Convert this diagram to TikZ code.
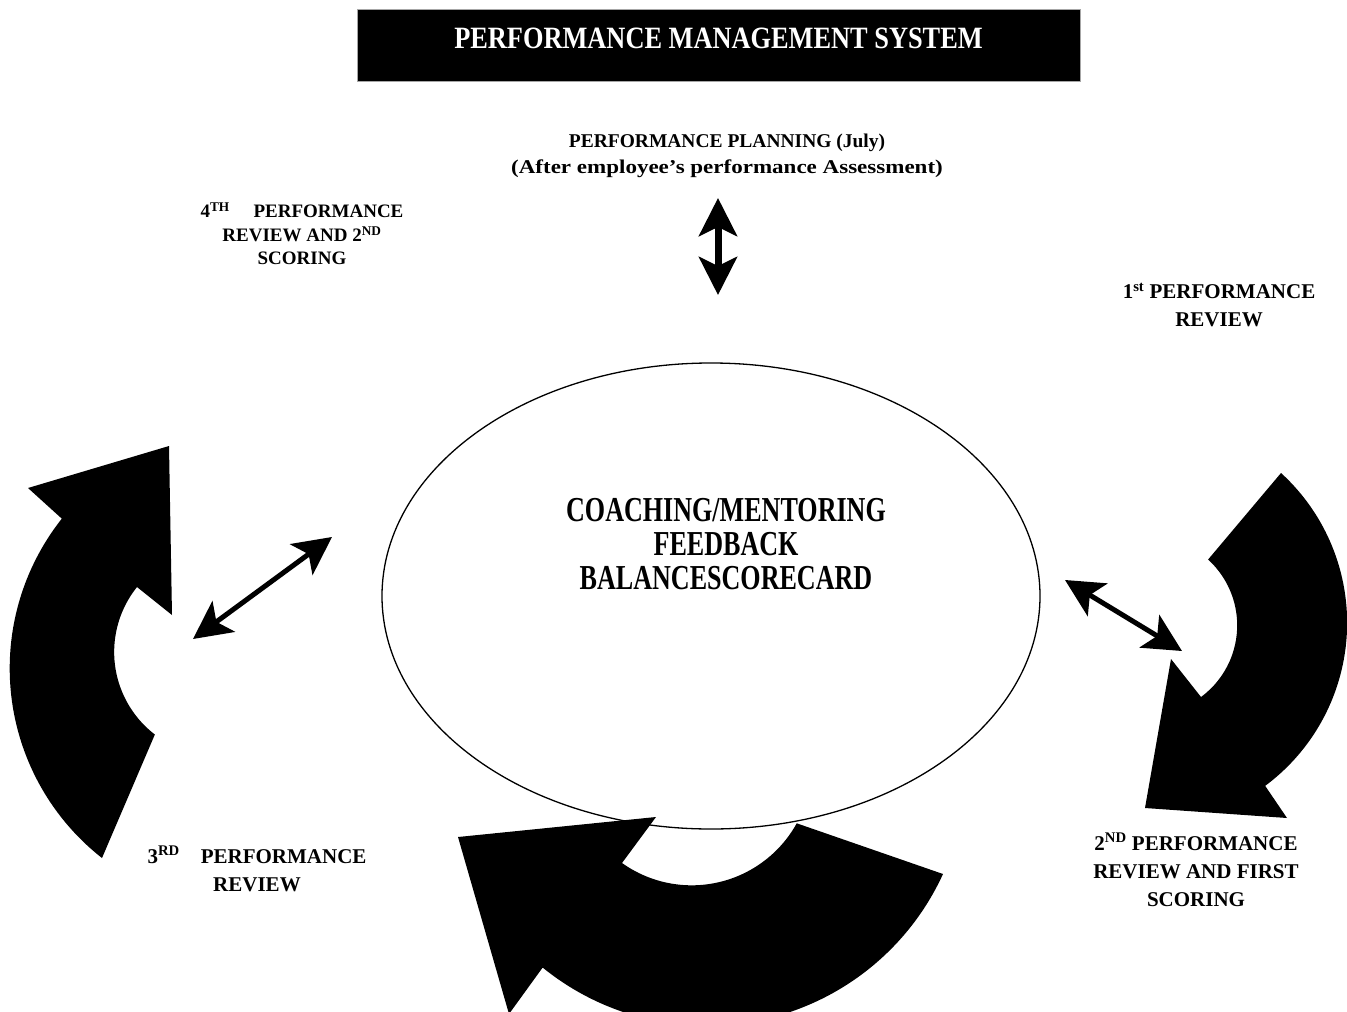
\documentclass[tikz,border=0pt]{standalone}
\usepackage{graphicx}
\usepackage{fontspec}
\setmainfont{Liberation Serif}
\usepackage{tikz}
\usetikzlibrary{arrows.meta,shapes.geometric}

\newcommand{\narrowtxt}[2]{\scalebox{#1}[1]{#2}}

\begin{document}
\begin{tikzpicture}[x=1pt,y=-1pt,
  stagelbl/.style={align=center,font=\bfseries\fontsize{21}{28}\selectfont},
  bigarrow/.style={fill=black},
  twoway/.style={{Stealth[length=38pt,width=38pt,inset=9pt]}-{Stealth[length=38pt,width=38pt,inset=9pt]},line width=6pt}]
  \useasboundingbox (0,0) rectangle (1347,1012);
  \clip (0,0) rectangle (1347,1012);

  % ===== Title bar =====
  \node[fill=black,draw=gray!70,minimum width=723pt,minimum height=72pt,text=white,
        font=\bfseries\fontsize{31}{31}\selectfont,text height=21pt,text depth=15pt]
        (title) at (718.5,45) {\narrowtxt{0.85}{PERFORMANCE MANAGEMENT SYSTEM}};

  % ===== Centre ellipse =====
  \node[draw,ellipse,line width=1.3pt,minimum width=658pt,minimum height=466pt] (coach) at (711,596) {};
  \node[align=center,font=\bfseries\fontsize{35}{34}\selectfont] (coachtxt) at (726,544)
    {\narrowtxt{0.745}{COACHING/MENTORING}\\\narrowtxt{0.745}{FEEDBACK}\\\narrowtxt{0.745}{BALANCESCORECARD}};

  % --- Stage labels ---
  \node[stagelbl,font=\bfseries\fontsize{19.5}{26}\selectfont] (plan) at (727,156)
    {PERFORMANCE PLANNING (July)\\\narrowtxt{1.18}{(After employee’s performance Assessment)}};
  \node[stagelbl,font=\bfseries\fontsize{19}{23.5}\selectfont] (fourth) at (302,234)
    {4\textsuperscript{TH}\quad\ PERFORMANCE\\REVIEW AND 2\textsuperscript{ND}\\SCORING};
  \node[stagelbl] (first) at (1219,305) {1\textsuperscript{st} PERFORMANCE\\REVIEW};
  \node[stagelbl] (second) at (1196,870) {2\textsuperscript{ND} PERFORMANCE\\REVIEW AND FIRST\\SCORING};
  \node[stagelbl] (third) at (257,869) {3\textsuperscript{RD}\quad PERFORMANCE\\REVIEW};

  % --- Two-way arrows ---
  \coordinate (plantop) at (718,198);
  \coordinate (planbot) at (718,295);
  \draw[twoway,line width=7pt] (plantop) -- (planbot);
  \coordinate (lefta) at (193,639);
  \coordinate (leftb) at (332,537);
  \draw[twoway,line width=5pt] (lefta) -- (leftb);
  \coordinate (righta) at (1065,580);
  \coordinate (rightb) at (1182,651);
  \draw[twoway,line width=5pt] (righta) -- (rightb);

  % ===== Cycle arrows =====
  % left, pointing up
  \fill[bigarrow] (102,858) arc[start angle=128.1,end angle=218.4,radius=241]
    -- (28,488) -- (169,446) -- (172,615) -- (137,587)
    arc[start angle=218.7,end angle=127.5,radius=104] -- cycle;
  % right, pointing down
  \fill[bigarrow] (1281,473) arc[start angle=-47.6,end angle=53.4,radius=203]
    -- (1287,818) -- (1145,808) -- (1171,659) -- (1201,697)
    arc[start angle=53.6,end angle=-47.7,radius=89] -- cycle;
  % bottom, pointing left
  \fill[bigarrow] (943,874) arc[start angle=24.6,end angle=129.1,radius=260]
    -- (509,1014) -- (458,837) -- (656,817) -- (622,863)
    arc[start angle=125.5,end angle=28.9,radius=120] -- cycle;
\end{tikzpicture}
\end{document}
